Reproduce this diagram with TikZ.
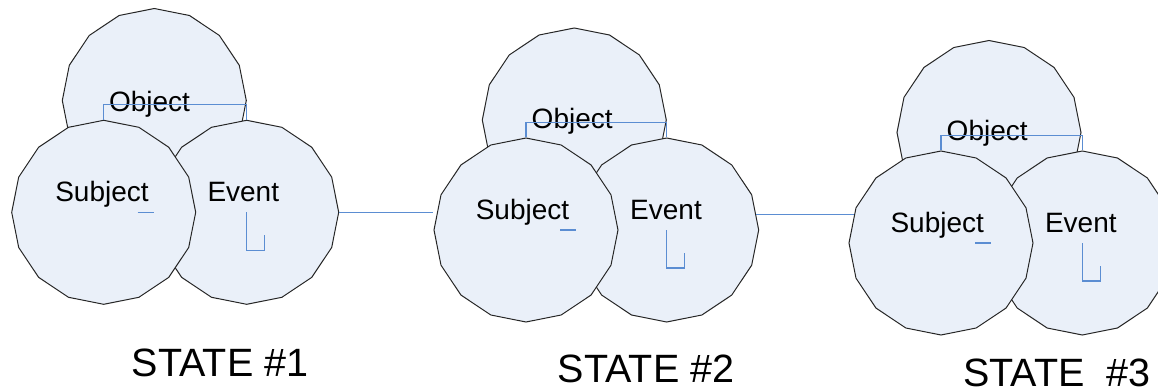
\documentclass[tikz,border=0pt]{standalone}
\usepackage{fontspec}
\setmainfont{Liberation Sans}
\usetikzlibrary{shapes.geometric}
\definecolor{bubblefill}{RGB}{234,240,249}
\definecolor{wireblue}{RGB}{91,141,210}
\begin{document}
\begin{tikzpicture}[x=0.5pt,y=-0.5pt,
  bubble/.style={regular polygon, regular polygon sides=16, shape border rotate=11.25,
    minimum size=92pt, inner sep=0pt, draw=black!85, fill=bubblefill, line width=0.5pt},
  txt/.style={font=\fontsize{14pt}{16pt}\selectfont, inner sep=0pt, anchor=base},
  lbl/.style={font=\fontsize{19.75pt}{22pt}\selectfont, inner sep=0pt, anchor=base west},
  wire/.style={draw=wireblue, line width=0.6pt}]
\clip (0,0) rectangle (1158,391);
% State 1
\node[bubble] (O1) at (154.3,100.5) {};
\node[bubble] (E1) at (246.7,212.3) {};
\node[bubble] (S1) at (103.7,212.3) {};
% State 2
\node[bubble] (O2) at (574.3,120) {};
\node[bubble] (E2) at (666.7,230) {};
\node[bubble] (S2) at (526,230) {};
% State 3
\node[bubble] (O3) at (989,132.5) {};
\node[bubble] (E3) at (1082.3,243) {};
\node[bubble] (S3) at (941,243) {};
% texts
\node[txt] (tO1) at (149.5,111) {Object};
\node[txt] (tS1) at (102,201.7) {Subject};
\node[txt] (tE1) at (243.3,201.7) {Event};
\node[txt] (tO2) at (572.2,128.3) {Object};
\node[txt] (tS2) at (522.5,219.3) {Subject};
\node[txt] (tE2) at (666,219.3) {Event};
\node[txt] (tO3) at (987.2,140.7) {Object};
\node[txt] (tS3) at (937.2,232.7) {Subject};
\node[txt] (tE3) at (1080.8,232.7) {Event};
% labels
\node[lbl] (L1) at (131.5,376) {STATE \#1};
\node[lbl] (L2) at (557.5,382.7) {STATE \#2};
\node[lbl] (L3) at (963,386.7) {STATE\ \ \#3};
% elbow connectors
\draw[wire] (S1.north) -- ++(0,-15.3) -| (E1.north);
\draw[wire] (S2.north) -- ++(0,-14.7) -| (E2.north);
\draw[wire] (S3.north) -- ++(0,-15) -| (E3.north);
% stubs
\foreach \s in {S1,S2,S3}{
  \draw[wire] ([xshift=17pt]\s.center) -- ++(16,0);
}
\foreach \e in {E1,E2,E3}{
  \draw[wire] (\e.center) -- ++(0,38) -- ++(18,0) -- ++(0,-15);
}
% links between states
\draw[wire] (E1.east) -- (E1.east -| S2.west);
\draw[wire] (E2.10) -- (E2.10 -| S3.162);
\end{tikzpicture}
\end{document}
